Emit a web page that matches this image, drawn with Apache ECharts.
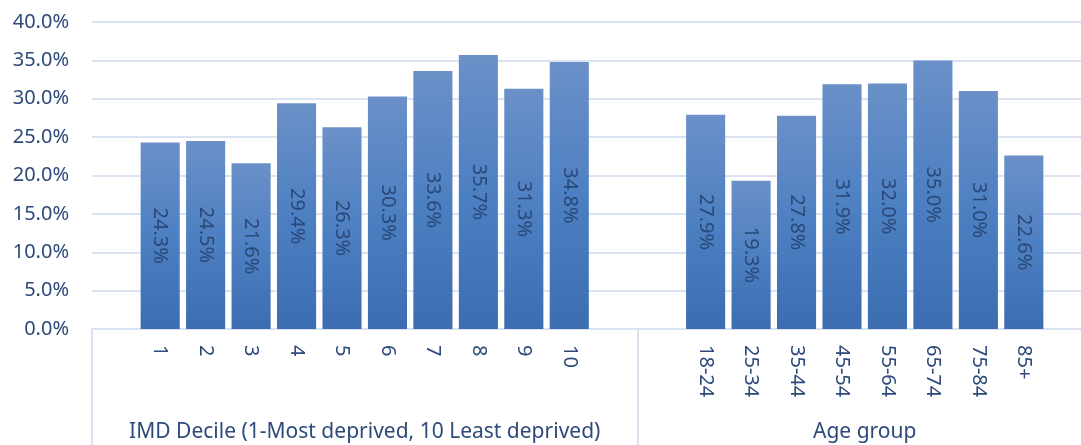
<!DOCTYPE html>
<html>
<head>
<meta charset="utf-8">
<script src="https://cdn.jsdelivr.net/npm/echarts@6/dist/echarts.min.js"></script>
<style>
  html, body { margin: 0; padding: 0; background: #ffffff; overflow: hidden; }
  /* The plot runs a little past the right edge of the window */
  #chart { width: 1092px; height: 445px; }
</style>
</head>
<body>
<div id="chart"></div>
<script>
// IMD decile (1 = most deprived, 10 = least deprived)
const imdCategories = ['1', '2', '3', '4', '5', '6', '7', '8', '9', '10'];
const imdValues = [24.3, 24.5, 21.6, 29.4, 26.3, 30.3, 33.6, 35.7, 31.3, 34.8];

// Age groups
const ageCategories = ['18-24', '25-34', '35-44', '45-54', '55-64', '65-74', '75-84', '85+'];
const ageValues = [27.9, 19.3, 27.8, 31.9, 32.0, 35.0, 31.0, 22.6];

// Group captions on the second level of the category axis
const groupNames = ['IMD Decile (1-Most deprived, 10 Least deprived)', 'Age group'];

// Y axis ticks (percent)
const yMin = 0, yMax = 40, yStep = 5;

// Each group is padded with an empty slot on both sides
const categories = [''].concat(imdCategories, ['', ''], ageCategories, ['']);
const values = [null].concat(imdValues, [null, null], ageValues, [null]);
const leftSpan = imdCategories.length + 2;
const rightSpan = ageCategories.length + 2;
const totalSpan = leftSpan + rightSpan;
const groupCenters = [leftSpan / 2, leftSpan + rightSpan / 2];

const textColor = '#2d4a7a';
const lineColor = '#d9e3f2';
const font = 'Noto Sans';

const chart = echarts.init(document.getElementById('chart'), null, { renderer: 'canvas' });

chart.setOption({
  animation: false,
  backgroundColor: '#ffffff',
  grid: { left: 92, top: 22, right: 0, height: 307 },
  xAxis: [
    {
      type: 'category',
      data: categories,
      position: 'bottom',
      axisLine: { show: true, lineStyle: { color: lineColor, width: 2 } },
      axisTick: { show: false },
      splitLine: { show: false },
      axisLabel: {
        interval: 0,
        rotate: -90,
        margin: 16,
        color: textColor,
        fontFamily: font,
        fontSize: 20
      }
    },
    {
      type: 'value',
      min: 0,
      max: totalSpan,
      position: 'bottom',
      axisLine: { show: false },
      splitLine: { show: false },
      axisTick: {
        show: true,
        customValues: [0, leftSpan, totalSpan],
        length: 118,
        lineStyle: { color: lineColor, width: 2 }
      },
      axisLabel: {
        show: true,
        customValues: groupCenters,
        margin: 93,
        color: textColor,
        fontFamily: font,
        fontSize: 21,
        formatter: function (v) {
          return v === groupCenters[0] ? groupNames[0] : groupNames[1];
        }
      }
    }
  ],
  yAxis: {
    type: 'value',
    min: yMin,
    max: yMax,
    interval: yStep,
    axisLine: { show: false },
    axisTick: { show: false },
    splitLine: { show: true, lineStyle: { color: lineColor, width: 2 } },
    axisLabel: {
      margin: 23,
      color: textColor,
      fontFamily: font,
      fontSize: 20,
      formatter: function (v) { return v.toFixed(1) + '%'; }
    }
  },
  series: [
    {
      type: 'bar',
      xAxisIndex: 0,
      data: values,
      barCategoryGap: '14%',
      itemStyle: {
        color: new echarts.graphic.LinearGradient(0, 0, 0, 1, [
          { offset: 0, color: '#6b90c8' },
          { offset: 0.5, color: '#4d80c2' },
          { offset: 1, color: '#3b6db0' }
        ])
      },
      label: {
        show: true,
        position: 'inside',
        rotate: -90,
        color: '#2a4878',
        fontFamily: font,
        fontSize: 20,
        formatter: function (p) { return p.value == null ? '' : p.value.toFixed(1) + '%'; }
      }
    }
  ]
});
</script>
</body>
</html>
